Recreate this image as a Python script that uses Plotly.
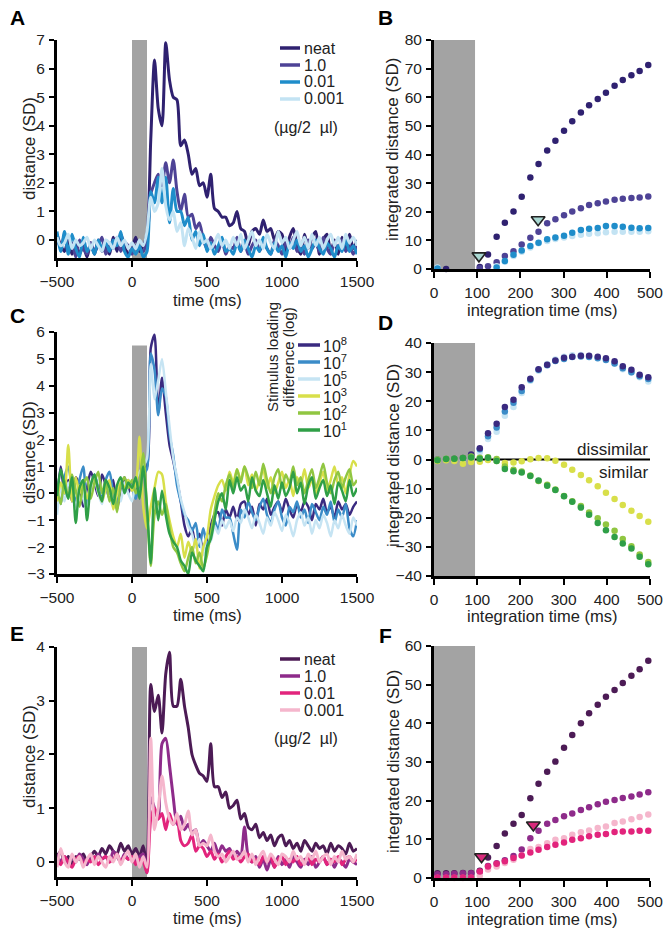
import plotly.graph_objects as go

W, H = 670, 935
FONT = "Liberation Sans, Arial, sans-serif"

# ---------------- data ----------------
TIME_MS = list(range(-500, 1501, 25))
STIM_MS = [0, 100]
STIM_INT = [0, 95]

A_NAMES = ["neat", "1.0", "0.01", "0.001"]
A_NEAT = [0.2, -0.2, -0.4, 0.0, -0.5, -0.1, -0.5, -0.2, -0.6, -0.1, -0.5, 0.0, -0.4, -0.2, -0.5, 0.1, -0.4, 0.2, -0.2, -0.5,
          -0.3, 0.1, -0.4, -0.2, 0.2, 3.5, 6.3, 4.6, 4.0, 6.9, 5.6, 5.0, 4.9, 3.3, 3.5, 3.0, 2.3, 2.5, 1.9, 2.0,
          1.5, 2.3, 1.1, 1.0, 0.8, 0.8, 0.5, 0.6, 1.0, 0.4, 0.3, -0.2, 0.3, 0.4, 0.2, 0.7, 0.3, 0.4, 0.0, 0.3,
          0.2, -0.4, 0.1, 0.4, -0.2, -0.5, 0.2, -0.3, 0.1, 0.3, -0.5, 0.0, 0.2, -0.4, 0.0, -0.5, 0.1, -0.3, 0.2, -0.3, 0.0]
A_1 = [0.1, -0.3, 0.2, -0.4, -0.1, -0.6, 0.0, -0.3, -0.5, -0.1, -0.4, -0.2, 0.1, -0.5, -0.2, -0.3, 0.1, -0.4, -0.1, -0.2,
       -0.5, -0.2, -0.3, -0.4, 0.0, 1.6, 2.0, 2.3, 1.9, 2.7, 2.0, 2.8, 1.7, 1.0, 1.6, 0.8, 0.9, 0.4, 0.6, 0.0,
       -0.3, 0.1, -0.2, -0.4, 0.0, -0.5, -0.2, -0.3, 0.1, -0.4, -0.1, -0.5, -0.2, 0.0, -0.4, -0.1, -0.3, -0.5, 0.0, -0.2,
       -0.5, -0.1, -0.3, 0.1, -0.4, -0.2, -0.5, 0.0, -0.3, -0.1, -0.4, 0.1, -0.3, -0.5, -0.1, -0.3, 0.0, -0.4, -0.2, -0.5, -0.2]
A_001 = [0.3, -0.4, 0.3, -0.5, 0.2, -0.3, -0.6, 0.1, -0.4, -0.2, -0.5, 0.0, -0.3, -0.1, -0.4, 0.0, -0.2, 0.3, -0.4, -0.6,
         -0.3, -0.5, -0.2, -0.6, -0.4, 1.7, 1.3, 2.2, 1.3, 2.2, 0.6, 1.8, 1.0, 1.0, 0.5, 0.8, 0.0, 0.3, -0.2, 0.2,
         -0.4, -0.1, -0.5, -0.2, 0.1, -0.4, -0.3, -0.5, -0.1, -0.4, 0.0, -0.3, -0.6, -0.2, -0.4, 0.1, -0.3, -0.5, -0.1, -0.4,
         -0.2, -0.6, -0.1, -0.3, 0.0, -0.4, -0.2, -0.6, -0.3, 0.0, -0.3, -0.5, -0.1, -0.3, -0.6, -0.2, -0.4, 0.0, -0.4, -0.2, -0.5]
A_0001 = [0.1, -0.2, -0.1, 0.2, -0.3, 0.0, -0.2, -0.1, 0.1, -0.3, 0.0, -0.2, -0.4, 0.0, -0.1, -0.3, 0.1, -0.2, 0.0, -0.3,
          -0.1, -0.3, 0.0, -0.2, 0.3, 1.5, 1.0, 1.3, 2.5, 1.2, 0.7, 1.0, 0.3, 0.6, -0.2, 0.4, 0.1, -0.3, 0.3, -0.1,
          0.0, -0.3, -0.1, 0.2, -0.2, 0.0, -0.3, 0.1, -0.2, 0.2, -0.3, 0.0, 0.3, -0.2, 0.0, -0.3, 0.2, -0.1, -0.3, 0.3,
          -0.1, 0.1, -0.3, 0.0, 0.3, -0.2, 0.1, -0.3, 0.2, -0.2, 0.1, -0.3, 0.0, 0.2, -0.2, 0.1, -0.3, 0.2, -0.1, 0.1, -0.2]

C_NAMES = ["10<sup>8</sup>", "10<sup>7</sup>", "10<sup>5</sup>", "10<sup>3</sup>", "10<sup>2</sup>", "10<sup>1</sup>"]
C_1E8 = [-0.2, 1.0, 0.0, 0.5, -0.3, 0.6, 0.3, -0.5, 0.2, 0.8, 0.4, -0.1, 0.7, 0.3, -0.2, 0.5, -0.6, 0.2, 0.6, 0.0,
         0.4, 0.1, 0.3, 0.9, 1.0, 5.4, 5.9, 3.0, 4.3, 3.0, 1.8, 1.2, 0.5, -0.3, -1.2, -1.6, -1.3, -2.0, -1.5, -2.2,
         -1.8, -1.2, -0.8, -0.7, -1.2, -0.6, -0.9, -0.5, -1.0, -0.4, -0.3, -0.8, -0.5, -1.2, -0.4, -0.6, -0.2, -0.8, -0.5, -0.3,
         -0.7, -0.2, -0.6, -0.9, -0.4, -0.7, -0.3, -0.5, -1.0, -0.4, -0.6, -0.2, -0.7, -0.5, -0.9, -0.3, -0.6, -0.4, -0.8, -0.5, -0.3]
C_1E7 = [0.3, -0.4, 0.6, 1.0, 0.2, -0.3, 0.5, 1.0, -0.5, 0.3, 0.7, 0.2, -0.2, 0.5, 0.8, 0.0, -0.4, 0.3, 0.1, 0.5,
         0.2, -0.2, 0.4, 0.7, 0.9, 5.2, 4.6, 2.9, 3.9, 3.6, 2.2, 1.4, 0.3, -0.3, -0.8, -1.0, -1.4, -1.1, -2.0, -1.3,
         -1.9, -1.6, -1.0, -1.4, -0.6, -0.9, -0.9, -1.5, -2.1, -0.6, -0.9, -0.3, -0.7, -1.0, -0.5, -0.2, -0.8, -1.1, -0.6, -0.3,
         -0.9, -1.2, -0.5, -0.7, -0.3, -0.9, -0.6, -1.1, -0.4, -0.7, -1.0, -0.5, -0.8, -0.3, -1.1, -0.6, -0.9, -0.4, -1.3, -1.6, -1.0]
C_1E5 = [-0.8, 0.2, -0.3, 0.4, 0.0, -0.5, 0.3, -0.2, -0.6, 0.2, 0.5, 0.0, -0.4, 0.3, -0.2, -0.5, 0.1, -0.3, 0.4, 0.0,
         -0.3, 0.5, 0.8, 1.0, 1.3, 4.8, 3.5, 4.2, 5.0, 3.8, 2.5, 1.3, 0.6, -0.2, -0.7, -1.2, -1.5, -2.0, -1.7, -2.3,
         -1.5, -1.8, -1.2, -1.5, -1.0, -1.3, -1.0, -1.4, -0.9, -1.1, -0.6, -0.9, -1.3, -0.8, -1.1, -1.5, -0.9, -1.2, -0.7, -1.0,
         -1.4, -0.8, -1.1, -1.6, -1.0, -0.7, -1.2, -0.9, -1.5, -1.0, -1.3, -0.8, -1.1, -1.6, -1.0, -1.3, -0.8, -1.2, -1.5, -0.9, -1.2]
C_1E3 = [-0.3, 0.4, 0.0, 1.8, -0.3, 0.6, 0.0, 0.4, -0.2, 0.3, 0.6, 0.1, -0.3, 0.2, 0.5, -0.6, 0.0, 0.4, 0.2, 0.5,
         0.1, 0.3, 2.1, -0.5, -1.3, -0.5, 0.2, 0.8, 0.7, -0.3, -1.0, -1.6, -2.0, -1.5, -2.4, -1.8, -2.2, -1.7, -2.8, -2.0,
         -1.6, -0.6, -0.1, 0.3, 0.5, 0.1, 0.8, 0.4, 0.9, 0.5, 1.0, 0.3, 0.7, 0.1, 0.5, 0.9, 0.2, 0.6, 0.0, 0.4,
         0.8, 0.2, 0.5, -0.1, 0.6, 0.3, 0.9, 0.2, 0.5, 0.0, 0.4, 0.8, 0.1, 0.5, 1.0, 0.3, 0.6, 0.0, 0.7, 1.2, 1.0]
C_1E2 = [0.2, -0.4, 0.5, -0.2, 0.7, 0.1, -0.5, 0.3, 0.6, -0.2, 0.4, 0.8, 0.0, 0.5, -0.3, 0.2, -0.7, 0.3, 0.6, 0.2,
         0.5, 0.0, 0.4, 1.5, -0.6, -2.7, -0.8, -0.3, -0.8, -0.4, -1.3, -2.0, -2.2, -2.6, -2.9, -2.4, -2.0, -2.6, -2.2, -2.8,
         -2.3, -1.5, -0.7, 0.0, -0.3, 0.3, 0.7, 0.2, 0.9, 0.4, 1.0, 0.6, 0.2, 0.8, 0.3, 1.1, 0.5, 0.0, 0.6, 0.9,
         0.2, 0.7, 0.4, 1.0, 0.3, 0.6, 0.0, 0.5, 0.9, 0.2, 0.6, 1.1, 0.4, 0.0, 0.5, 0.8, 0.2, 0.6, 0.9, 0.3, 0.5]
C_1E1 = [-0.1, 0.9, 0.3, -0.2, 0.6, -1.1, 0.2, 0.5, -1.0, 0.3, 0.7, 0.1, -0.3, 0.5, 0.2, -0.4, 0.3, 0.6, 0.0, 0.4,
         0.2, 0.6, -0.2, 1.0, -0.5, -2.6, 0.2, -1.0, 0.1, -0.8, -1.5, -1.8, -2.0, -2.5, -2.7, -3.0, -2.2, -2.5, -2.7, -2.9,
         -2.0, -1.7, -1.0, -0.3, 0.0, -0.6, 0.5, 0.0, 0.6, 0.1, 0.3, -0.3, 0.6, 0.1, -0.1, 0.5, 0.0, -0.5, 0.3, -0.2,
         0.4, -0.1, 0.2, 0.8, 0.0, 0.4, -0.4, 0.3, 0.6, -0.2, 0.2, 0.5, -0.1, 0.3, -0.4, 0.4, 0.1, -0.3, 0.5, -0.1, 0.2]

E_NAMES = ["neat", "1.0", "0.01", "0.001"]
E_NEAT = [0.1, 0.2, 0.0, 0.1, -0.05, 0.1, 0.05, 0.15, 0.0, 0.1, 0.2, 0.1, 0.25, 0.15, 0.3, 0.2, 0.15, 0.35, 0.2, 0.3,
          0.15, 0.25, 0.1, 0.3, -0.1, 3.3, 2.8, 3.1, 2.4, 3.5, 3.9, 2.9, 2.9, 3.4, 2.9, 2.5, 2.0, 1.8, 1.65, 1.6,
          1.5, 2.2, 1.4, 1.4, 1.2, 1.3, 1.0, 1.05, 1.15, 0.8, 0.9, 0.65, 0.6, 0.7, 0.45, 0.55, 0.4, 0.5, 0.3, 0.45,
          0.5, 0.3, 0.4, 0.25, 0.35, 0.2, 0.4, 0.3, 0.2, 0.35, 0.25, 0.3, 0.15, 0.35, 0.2, 0.3, 0.25, 0.15, 0.35, 0.2, 0.25]
E_1 = [0.15, 0.0, 0.1, -0.05, 0.1, 0.0, 0.15, 0.05, -0.05, 0.1, 0.0, 0.15, 0.05, 0.1, 0.0, 0.2, 0.1, 0.0, 0.15, 0.05,
       0.1, 0.0, 0.1, 0.15, -0.2, 1.2, 1.0, 0.8, 2.2, 2.3, 1.8, 1.2, 0.7, 0.85, 0.6, 0.7, 0.55, 0.6, 0.3, 0.4,
       0.3, 0.2, 0.35, 0.15, 0.3, 0.2, 0.25, 0.1, 0.2, 0.1, 0.65, 0.1, 0.0, 0.1, -0.1, 0.05, -0.15, 0.05, -0.1, 0.1,
       -0.05, 0.05, -0.1, 0.1, 0.0, -0.1, 0.05, -0.05, 0.1, -0.1, 0.0, 0.1, -0.05, 0.05, -0.1, 0.05, 0.0, -0.1, 0.05, 0.0, -0.05]
E_001 = [0.05, -0.05, 0.1, 0.0, -0.1, 0.05, 0.1, -0.05, 0.05, 0.0, 0.1, -0.05, 0.05, 0.1, 0.0, 0.05, 0.15, 0.0, 0.1, 0.05,
         0.1, -0.05, 0.05, 0.0, -0.2, 0.8, 1.0, 0.8, 0.9, 0.6, 0.9, 0.7, 0.8, 0.4, 0.3, 0.35, 0.5, 0.2, 0.3, 0.25,
         0.1, 0.2, 0.05, 0.15, 0.0, 0.1, 0.2, 0.05, 0.1, 0.0, 0.1, 0.15, 0.0, 0.05, -0.05, 0.1, 0.0, 0.1, -0.1, 0.05,
         0.1, -0.05, 0.05, 0.0, 0.1, -0.05, 0.0, 0.1, -0.05, 0.05, 0.0, 0.1, -0.05, 0.05, 0.0, 0.1, -0.05, 0.05, 0.1, 0.0, 0.05]
E_0001 = [-0.1, 0.25, 0.0, -0.1, 0.15, 0.0, 0.1, -0.1, 0.05, 0.15, -0.05, 0.1, 0.0, -0.1, 0.1, 0.0, 0.15, -0.05, 0.1, 0.2,
          0.0, 0.15, -0.1, 0.1, -0.1, 2.3, 0.6, 1.0, 1.6, 1.1, 0.8, 0.7, 0.9, 0.6, 0.7, 0.95, 0.5, 0.6, 0.3, 0.35,
          0.3, 0.5, 0.2, 0.1, 0.15, 0.0, 0.1, 0.2, 0.05, 0.1, 0.2, 0.0, 0.15, -0.05, 0.1, 0.2, 0.0, 0.15, 0.05, -0.05,
          0.15, 0.1, 0.0, 0.2, 0.05, 0.1, -0.05, 0.15, 0.05, 0.2, 0.0, 0.1, 0.15, -0.05, 0.1, 0.0, 0.2, 0.05, 0.1, 0.0, 0.15]

INT_MS = [8, 28, 47, 67, 86, 106, 125, 145, 164, 184, 203, 223, 242, 262, 281, 301, 320, 340, 359, 379, 398, 418, 437, 457, 476, 496]
B_NEAT = [0.2, 0.0, -0.3, -0.4, -0.2, 0.7, 5.1, 11.3, 16.2, 20.1, 25.2, 32.0, 36.7, 41.4, 44.8, 48.3, 51.6, 54.7, 57.2, 59.4, 61.6, 64.0, 66.0, 67.7, 69.2, 71.3]
B_1 = [0.1, -0.2, -0.3, -0.4, -0.2, 0.3, 1.0, 2.4, 4.5, 6.2, 8.6, 10.9, 13.0, 16.0, 17.4, 18.8, 20.1, 21.2, 22.4, 23.0, 23.6, 24.2, 24.5, 24.8, 25.0, 25.3]
B_001 = [0.2, -0.5, -0.8, -1.0, -1.8, -2.6, -1.2, 0.5, 2.8, 5.0, 6.5, 8.0, 9.2, 10.4, 11.0, 11.6, 12.7, 13.6, 14.1, 14.3, 15.0, 15.0, 14.8, 14.4, 14.2, 14.3]
B_0001 = [0.5, -0.3, -0.6, -0.8, -1.0, -1.2, -0.5, 1.0, 2.5, 4.5, 6.0, 7.5, 9.0, 9.8, 10.5, 11.0, 11.5, 12.0, 12.3, 12.5, 12.8, 13.0, 13.0, 13.0, 13.0, 13.2]
B_ONSET_MS = [104, 241]
B_ONSET_VAL = [4.6, 17.2]

D_1E8 = [0.0, 0.0, 0.3, 0.5, 1.7, 3.9, 9.0, 12.3, 18.0, 20.5, 24.8, 27.7, 31.0, 32.5, 34.0, 34.9, 35.3, 35.6, 35.6, 35.3, 34.8, 33.7, 32.0, 30.8, 29.1, 28.2]
D_1E7 = [0.0, 0.2, 0.0, 0.3, 1.2, 3.5, 8.0, 11.0, 16.5, 19.5, 23.5, 27.4, 30.8, 32.4, 33.8, 34.5, 35.2, 35.4, 35.2, 34.8, 34.2, 33.0, 31.3, 30.0, 28.6, 27.6]
D_1E5 = [0.0, 0.0, 0.0, 0.0, 0.8, 2.5, 7.0, 9.5, 15.0, 18.0, 22.8, 27.0, 30.5, 32.8, 34.3, 35.3, 35.8, 35.9, 35.5, 35.0, 34.4, 33.0, 31.0, 29.9, 28.2, 26.8]
D_1E3 = [-0.5, -0.3, -0.5, -1.5, -0.9, -0.8, -0.2, -0.5, -1.2, -1.0, -0.6, 0.1, 0.5, 0.4, -0.4, -1.8, -3.5, -5.3, -7.1, -9.2, -11.4, -13.6, -15.6, -17.6, -19.4, -21.4]
D_1E2 = [0.0, 0.3, 0.3, 0.5, 1.0, 0.6, 0.8, 0.2, -2.4, -3.5, -4.1, -5.5, -7.4, -8.7, -10.3, -12.5, -14.3, -16.0, -18.2, -20.2, -22.3, -24.5, -27.3, -29.8, -32.6, -35.2]
D_1E1 = [-0.3, 0.2, 0.3, 0.5, 0.7, 0.3, 0.6, -0.5, -3.3, -4.0, -4.5, -5.7, -7.2, -9.0, -10.5, -12.6, -14.5, -16.5, -19.0, -21.8, -24.3, -26.6, -28.8, -30.6, -33.4, -36.0]

F_NEAT = [1.2, 1.2, 1.2, 1.3, 1.3, 1.9, 5.3, 8.3, 11.5, 14.0, 16.3, 20.6, 24.4, 27.5, 30.1, 33.7, 37.0, 40.0, 42.6, 44.8, 46.9, 48.6, 50.4, 52.3, 54.0, 56.2]
F_1 = [1.0, 1.0, 1.1, 1.2, 1.2, 1.6, 3.1, 3.8, 4.6, 5.7, 7.4, 10.3, 12.2, 14.0, 15.0, 16.0, 16.7, 17.6, 18.3, 19.1, 19.7, 20.2, 20.7, 21.1, 21.6, 22.2]
F_001 = [0.1, 0.1, 0.1, 0.1, 0.1, 1.7, 3.0, 3.7, 4.3, 5.2, 5.8, 6.6, 7.3, 8.0, 8.6, 9.2, 9.9, 10.3, 10.8, 11.2, 11.4, 11.9, 12.0, 12.0, 12.2, 12.2]
F_0001 = [0.0, 0.0, 0.0, 0.0, 0.0, 0.6, 2.2, 3.0, 3.9, 4.7, 5.8, 7.5, 8.0, 9.0, 9.9, 10.3, 11.2, 11.8, 12.3, 12.9, 13.3, 14.2, 14.6, 15.2, 15.8, 16.4]
F_ONSET_MS = [110, 230]
F_ONSET_VAL = [5.5, 13.7]

TIME_TICKS = [-500, 0, 500, 1000, 1500]
INT_TICKS = [0, 100, 200, 300, 400, 500]

# ---------------- colours ----------------
COL_A = ["#2f2170", "#4e4396", "#1f8dca", "#c3e3f3"]
COL_C = ["#3a2a80", "#3b8cc8", "#c6e4f3", "#d8df4a", "#90c641", "#2f9f47"]
COL_E = ["#4c1b55", "#8e2b8a", "#e2247c", "#f5b6cc"]
GRAY = "#a3a3a3"

# ---------------- helpers ----------------
def px(x):
    return x / W

def py(y):
    return 1 - y / H

fig = go.Figure()

def ts(vals, col, ax, width):
    fig.add_trace(go.Scatter(x=TIME_MS, y=vals, mode="lines", xaxis=ax[0], yaxis=ax[1],
                             line=dict(color=col, width=width, shape="spline", smoothing=0.7),
                             showlegend=False, hoverinfo="skip"))

def dots(vals, col, ax, size=6.5):
    fig.add_trace(go.Scatter(x=INT_MS, y=vals, mode="markers", xaxis=ax[0], yaxis=ax[1],
                             marker=dict(color=col, size=size, line=dict(width=0)),
                             cliponaxis=False, showlegend=False, hoverinfo="skip"))

def onset(xs, ys, col, ax):
    fig.add_trace(go.Scatter(x=xs, y=ys, mode="markers", xaxis=ax[0], yaxis=ax[1],
                             marker=dict(symbol="triangle-down", color=col, size=12,
                                         line=dict(color="#222", width=1.6)),
                             cliponaxis=False, showlegend=False, hoverinfo="skip"))

# Panel A
for vals, col in zip([A_NEAT, A_1, A_001, A_0001], COL_A):
    ts(vals, col, ("x", "y"), 3)
# Panel B
for vals, col in zip([B_NEAT, B_1, B_0001, B_001], [COL_A[0], COL_A[1], COL_A[3], COL_A[2]]):
    dots(vals, col, ("x2", "y2"))
onset(B_ONSET_MS, B_ONSET_VAL, "#a9d8d2", ("x2", "y2"))
# Panel C
for vals, col in zip([C_1E8, C_1E7, C_1E5, C_1E3, C_1E2, C_1E1], COL_C):
    ts(vals, col, ("x3", "y3"), 2.5)
# Panel D
for vals, col in zip([D_1E5, D_1E7, D_1E8, D_1E3, D_1E2, D_1E1], [COL_C[2], COL_C[1], COL_C[0], COL_C[3], COL_C[4], COL_C[5]]):
    dots(vals, col, ("x4", "y4"))
# Panel E
for vals, col in zip([E_NEAT, E_1, E_001, E_0001], COL_E):
    ts(vals, col, ("x5", "y5"), 3)
# Panel F
for vals, col in zip([F_NEAT, F_1, F_0001, F_001], [COL_E[0], COL_E[1], COL_E[3], COL_E[2]]):
    dots(vals, col, ("x6", "y6"))
onset(F_ONSET_MS, F_ONSET_VAL, "#d82a7c", ("x6", "y6"))

# ---------------- axes ----------------
TICKFONT = dict(family=FONT, size=15.5, color="#222")

def xax(dom, rng, tv, anchor):
    return dict(domain=[px(dom[0]), px(dom[1])], range=rng, tickvals=tv, anchor=anchor,
                showline=True, linewidth=3, linecolor="black", ticks="outside", ticklen=6,
                tickwidth=2, tickcolor="black", showgrid=False, zeroline=False, automargin=False,
                tickfont=TICKFONT, fixedrange=True, ticklabelstandoff=1)

def yax(dom, rng, tv, anchor):
    return dict(domain=[py(dom[1]), py(dom[0])], range=rng, tickvals=tv, anchor=anchor,
                showline=True, linewidth=3, linecolor="black", ticks="outside", ticklen=5,
                tickwidth=2, tickcolor="black", showgrid=False, zeroline=False, automargin=False,
                tickfont=TICKFONT, fixedrange=True, ticklabelstandoff=1)

LX = (57, 357)
RX = (434, 650)
fig.update_layout(
    xaxis=xax(LX, [-500, 1500], TIME_TICKS, "y"),
    yaxis=yax((40, 258), [-0.63, 7], list(range(0, 8)), "x"),
    xaxis2=xax(RX, [0, 500], INT_TICKS, "y2"),
    yaxis2=yax((40, 269), [0, 80], list(range(0, 81, 10)), "x2"),
    xaxis3=xax(LX, [-500, 1500], TIME_TICKS, "y3"),
    yaxis3=yax((332, 574), [-3, 6], list(range(-3, 7)), "x3"),
    xaxis4=xax(RX, [0, 500], INT_TICKS, "y4"),
    yaxis4=yax((343, 576), [-40, 40], list(range(-40, 41, 10)), "x4"),
    xaxis5=xax(LX, [-500, 1500], TIME_TICKS, "y5"),
    yaxis5=yax((647, 877), [-0.28, 4], list(range(0, 5)), "x5"),
    xaxis6=xax(RX, [0, 500], INT_TICKS, "y6"),
    yaxis6=yax((646, 878), [0, 60], list(range(0, 61, 10)), "x6"),
)

# ---------------- shapes ----------------
shapes = []
for ax, top in [("", 7), ("3", 5.5), ("5", 4)]:
    shapes.append(dict(type="rect", xref="x" + ax, yref="y" + ax, x0=STIM_MS[0], x1=STIM_MS[1],
                       y0=-5, y1=top, fillcolor=GRAY, line=dict(width=0), layer="below"))
for ax, (lo, top) in [("2", (0, 80)), ("4", (-40, 40)), ("6", (0, 60))]:
    shapes.append(dict(type="rect", xref="x" + ax, yref="y" + ax, x0=STIM_INT[0], x1=STIM_INT[1],
                       y0=lo, y1=top, fillcolor=GRAY, line=dict(width=0), layer="below"))
shapes.append(dict(type="line", xref="x4", yref="y4", x0=STIM_INT[1], x1=505, y0=0, y1=0,
                   line=dict(color="black", width=2), layer="below"))

annotations = []

def txt(x, y, s, size=16, anchor="center", bold=False, angle=0, color="#222"):
    annotations.append(dict(x=px(x), y=py(y), xref="paper", yref="paper", text=("<b>%s</b>" % s) if bold else s,
                            showarrow=False, xanchor=anchor, yanchor="middle", textangle=angle, borderpad=0,
                            font=dict(family=FONT, size=size, color=color)))

def legend_line(x0, x1, y, col, w=3.5):
    shapes.append(dict(type="line", xref="paper", yref="paper", x0=px(x0), x1=px(x1), y0=py(y), y1=py(y),
                       line=dict(color=col, width=w)))

# legends A and E
for names, cols, rows, unit_y in [(A_NAMES, COL_A, [48, 65, 82, 99], 127), (E_NAMES, COL_E, [659, 676, 693, 710], 738)]:
    for n, c, yy in zip(names, cols, rows):
        legend_line(280, 300, yy, c)
        txt(303, yy, n, anchor="left")
    txt(273, unit_y, "(µg/2  µl)", anchor="left")
# legend C
for n, c, yy in zip(C_NAMES, COL_C, [345, 362, 379, 396, 413, 430]):
    legend_line(298, 320, yy, c)
    txt(322, yy, n, anchor="left")
txt(272, 357, "Stimulus loading", size=15, angle=-90)
txt(288, 357, "difference (log)", size=15, angle=-90)

# panel letters
for s, x, y in [("A", 17, 17), ("B", 386, 17), ("C", 17, 315), ("D", 386, 322), ("E", 17, 633), ("F", 386, 635)]:
    txt(x, y, s, size=21, bold=True, color="black")

# axis titles
for y in [300, 615, 918]:
    txt(207, y, "time (ms)", size=16.5)
for y in [310, 616, 919]:
    txt(542, y, "integration time (ms)", size=16.5)
for y in [149, 453, 757]:
    txt(29, y, "distance (SD)", size=17, angle=-90)
for y in [150, 456, 762]:
    txt(393, y, "integrated distance (SD)", size=17, angle=-90)

# D annotations
annotations.append(dict(x=505, y=-16.5, ax=505, ay=16.5, xref="x4", yref="y4", axref="x4", ayref="y4",
                        showarrow=True, arrowhead=2, arrowside="end+start", arrowsize=1.1, arrowwidth=2.5,
                        arrowcolor="#111", text=""))
annotations.append(dict(x=499, y=3.3, xref="x4", yref="y4", text="dissimilar", showarrow=False,
                        xanchor="right", yanchor="middle", font=dict(family=FONT, size=17, color="#222")))
annotations.append(dict(x=499, y=-4.5, xref="x4", yref="y4", text="similar", showarrow=False,
                        xanchor="right", yanchor="middle", font=dict(family=FONT, size=17, color="#222")))

fig.update_layout(
    width=W, height=H, margin=dict(l=0, r=0, t=0, b=0, autoexpand=False),
    paper_bgcolor="white", plot_bgcolor="white",
    shapes=shapes, annotations=annotations, showlegend=False,
    font=dict(family=FONT, size=16, color="#222"), hovermode=False,
)

fig.write_html("out.html", config={"displayModeBar": False, "staticPlot": True},
               post_script="document.body.style.margin='0';document.body.style.overflow='hidden';")
